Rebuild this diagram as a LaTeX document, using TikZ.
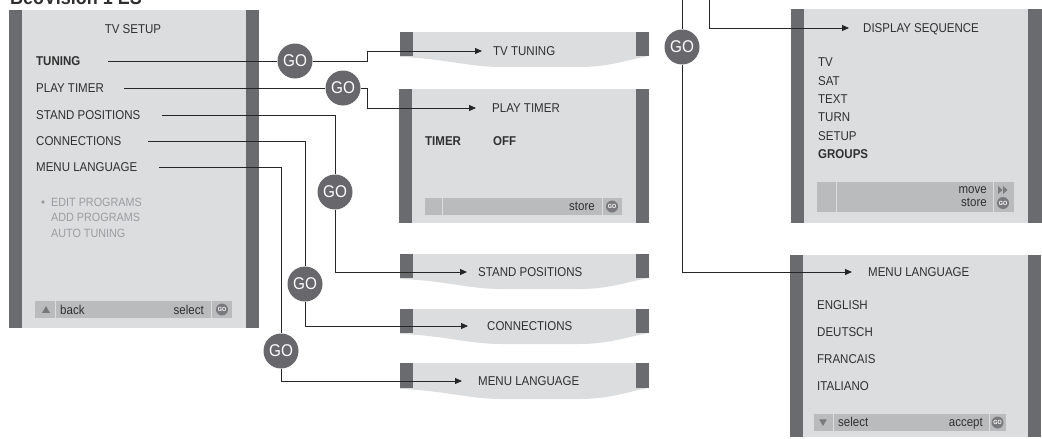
\documentclass[tikz,border=0pt]{standalone}
\usepackage{fontspec}
\setmainfont{Liberation Sans}[FakeStretch=0.9]
\usepackage{xcolor}
\usetikzlibrary{arrows.meta,positioning,shapes.geometric}

\definecolor{panelgray}{HTML}{DCDDDF}
\definecolor{bargray}{HTML}{6A6B6F}
\definecolor{footgray}{HTML}{BABBBD}
\definecolor{gogray}{HTML}{68686C}
\definecolor{icongray}{HTML}{7A7A7E}
\definecolor{txtgray}{HTML}{303030}
\definecolor{dimgray}{HTML}{9C9DA0}

\begin{document}
\begin{tikzpicture}[
  x=1pt, y=-1pt,
  lbl/.style={inner sep=0, anchor=west, text=txtgray, font=\fontsize{12.8}{15}\selectfont, text height=9pt, text depth=0pt},
  dim/.style={lbl, text=dimgray, font=\fontsize{12}{14}\selectfont},
  go/.style={circle, fill=gogray, text=white, minimum size=35pt, inner sep=0, font=\fontsize{17}{17}\selectfont},
  goicon/.style={circle, fill=icongray, text=white, minimum size=12pt, inner sep=0, font=\fontsize{6}{6}\selectfont\bfseries},
  tri/.style={regular polygon, regular polygon sides=3, fill=icongray, minimum size=9pt, inner sep=0},
  ln/.style={draw=black!85, line width=0.9pt},
  arr/.style={ln, -{Triangle[length=7pt, width=6pt]}}
]
\useasboundingbox (0,0) rectangle (1042,439);

% title (cut by the page edge)
\node[inner sep=0, anchor=base west, text=txtgray, font=\fontsize{20}{20}\selectfont\bfseries] (title) at (10,5) {BeoVision 1 ES};

% TV SETUP screen
\fill[panelgray] (22,10) rectangle (246,328);
\fill[bargray] (9,10) rectangle (22,328);
\fill[bargray] (246,10) rectangle (259,328);
\node[lbl, anchor=center] (setup) at (133,29) {TV SETUP};
\node[lbl, font=\fontsize{12.8}{15}\selectfont\bfseries] (tun) at (36,61) {TUNING};
\node[lbl] (ptm) at (36,88) {PLAY TIMER};
\node[lbl] (stp) at (36,115) {STAND POSITIONS};
\node[lbl] (con) at (36,141) {CONNECTIONS};
\node[lbl] (mnl) at (36,167) {MENU LANGUAGE};
\fill[dimgray] (43,202) circle (1.8);
\node[dim] (edit) at (51,202) {EDIT PROGRAMS};
\node[dim] (add) at (51,217) {ADD PROGRAMS};
\node[dim] (auto) at (51,233) {AUTO TUNING};
\fill[footgray] (35,301) rectangle (232,318);
\draw[panelgray, line width=1pt] (55.5,301) -- (55.5,318) (211.5,301) -- (211.5,318);
\node[tri] (up) at (46,310.5) {};
\node[lbl] (back) at (60,309.5) {back};
\node[lbl, anchor=east] (sel) at (204,309.5) {select};
\node[goicon] (gi1) at (222,309.5) {GO};

% torn screens
\foreach \yt/\yb in {32/56, 254/278, 309/333, 363/388}{
  \fill[panelgray] (400,\yt) -- (649,\yt) -- (649,\yb)
    .. controls (630,\yb+3) and (610,\yb+11) .. (580,\yb+11)
    -- (500,\yb+11) .. controls (470,\yb+11) and (440,\yb+2) .. (400,\yb+1) -- cycle;
  \fill[bargray] (400,\yt) rectangle (413,\yb);
  \fill[bargray] (636,\yt) rectangle (649,\yb);
}
\node[lbl] (tvt) at (493,51) {TV TUNING};
\node[lbl] (spt) at (478,272) {STAND POSITIONS};
\node[lbl] (cnt) at (487,326) {CONNECTIONS};
\node[lbl] (mlt) at (478,381) {MENU LANGUAGE};

% PLAY TIMER screen
\fill[panelgray] (412,89) rectangle (636,223);
\fill[bargray] (399,89) rectangle (412,223);
\fill[bargray] (636,89) rectangle (649,223);
\node[lbl] (ptt) at (492,108) {PLAY TIMER};
\node[lbl, font=\fontsize{12.8}{15}\selectfont\bfseries] (timer) at (425,141) {TIMER};
\node[lbl, font=\fontsize{12.8}{15}\selectfont\bfseries] (off) at (493,141) {OFF};
\fill[footgray] (425,198) rectangle (622,215);
\draw[panelgray, line width=1pt] (442,198) -- (442,215) (602,198) -- (602,215);
\node[lbl, anchor=east] (sto1) at (595,206) {store};
\node[goicon] (gi2) at (612,206.5) {GO};

% DISPLAY SEQUENCE screen
\fill[panelgray] (804,9) rectangle (1028,223);
\fill[bargray] (791,9) rectangle (804,223);
\fill[bargray] (1028,9) rectangle (1042,223);
\node[lbl] (dst) at (863,28) {DISPLAY SEQUENCE};
\node[lbl] (tv) at (818,62) {TV};
\node[lbl] (sat) at (818,81) {SAT};
\node[lbl] (txt) at (818,99) {TEXT};
\node[lbl] (trn) at (818,117) {TURN};
\node[lbl] (stu) at (818,136) {SETUP};
\node[lbl, font=\fontsize{12.8}{15}\selectfont\bfseries] (grp) at (818,154) {GROUPS};
\fill[footgray] (817,182) rectangle (1014,212);
\draw[panelgray, line width=1pt] (836,182) -- (836,212) (993,182) -- (993,212);
\node[lbl, anchor=east] (mov) at (987,189) {move};
\node[lbl, anchor=east] (sto2) at (987,202) {store};
\fill[icongray] (998,186) -- (1002.5,190) -- (998,194) -- cycle;
\fill[icongray] (1003,186) -- (1007.5,190) -- (1003,194) -- cycle;
\node[goicon] (gi3) at (1003,203) {GO};

% MENU LANGUAGE screen
\fill[panelgray] (803,255) rectangle (1028,437);
\fill[bargray] (790,255) rectangle (803,437);
\fill[bargray] (1028,255) rectangle (1041,437);
\node[lbl] (ml2) at (868,272) {MENU LANGUAGE};
\node[lbl] (eng) at (817,305) {ENGLISH};
\node[lbl] (deu) at (817,332) {DEUTSCH};
\node[lbl] (fra) at (817,359) {FRANCAIS};
\node[lbl] (ita) at (817,386) {ITALIANO};
\fill[footgray] (814,414) rectangle (1006,431);
\draw[panelgray, line width=1pt] (833,414) -- (833,431) (989,414) -- (989,431);
\node[tri, shape border rotate=180] (dn) at (823,421.5) {};
\node[lbl] (sel2) at (838,422) {select};
\node[lbl, anchor=east] (acc) at (983,422) {accept};
\node[goicon] (gi4) at (997.5,422.5) {GO};

% GO buttons
\node[go] (go1) at (295,61) {GO};
\node[go] (go2) at (343,88) {GO};
\node[go] (go3) at (335,192) {GO};
\node[go] (go4) at (305,284) {GO};
\node[go] (go5) at (281,351) {GO};
\node[go] (go6) at (682,47) {GO};

% connectors
\coordinate (s1) at (108,61);
\coordinate (s2) at (124,88);
\coordinate (s3) at (162,115);
\coordinate (s4) at (148,141);
\coordinate (s5) at (159,167);
\coordinate (top1) at (682,0);
\coordinate (top2) at (709,0);
\draw[ln] (s1) -- (go1);
\draw[arr] (go1) -- ++(72,0) |- ([xshift=-11pt]tvt.west);
\draw[ln] (s2) -- (go2);
\draw[arr] (go2) -- ++(24,0) |- ([xshift=-16pt]ptt.west);
\draw[ln] (s3) -| (go3);
\draw[arr] (go3) |- ([xshift=-11pt]spt.west);
\draw[ln] (s4) -| (go4);
\draw[arr] (go4) |- ([xshift=-19pt]cnt.west);
\draw[ln] (s5) -| (go5);
\draw[arr] (go5) |- ([xshift=-16pt]mlt.west);
\draw[ln] (top1) -- (go6);
\draw[arr] (go6) |- ([xshift=-16pt]ml2.west);
\draw[arr] (top2) |- ([xshift=-14pt]dst.west);
\end{tikzpicture}
\end{document}
